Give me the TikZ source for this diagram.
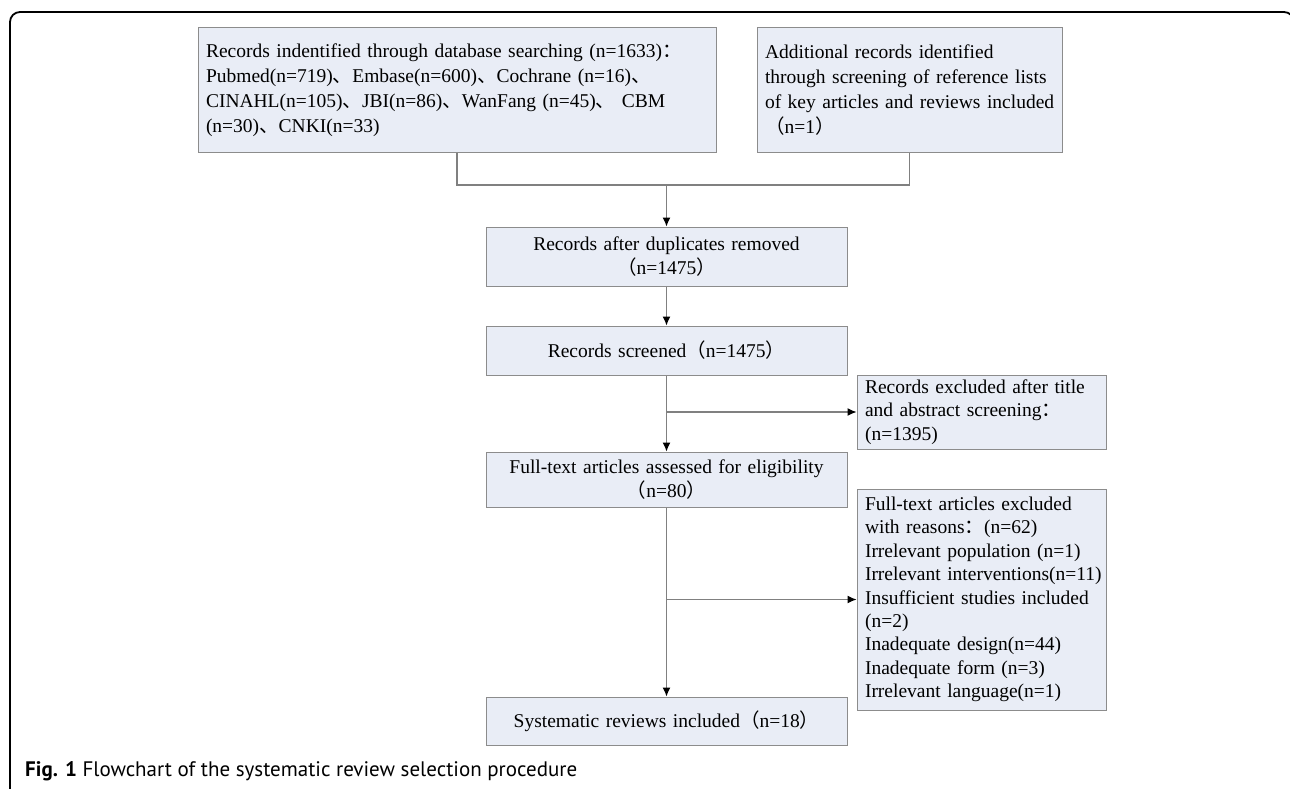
\documentclass[tikz,border=0pt]{standalone}
\usepackage{fontspec}
\setmainfont{Liberation Serif}
\newfontfamily\cjk{Noto Sans CJK SC}
\newfontfamily\capfont{PT Sans}
\usepackage{tikz}
\usetikzlibrary{arrows.meta}
\usetikzlibrary{positioning}
\definecolor{boxfill}{RGB}{233,237,246}
\definecolor{boxgray}{RGB}{140,140,140}
\definecolor{linegray}{RGB}{128,128,128}
\newcommand{\zh}[1]{{\cjk #1}}

\begin{document}
\begin{tikzpicture}[x=1pt,y=-1pt]
\useasboundingbox (0,0) rectangle (1290,789);
\draw[line width=1.8pt, rounded corners=10pt] (10,800) -- (10,12) -- (1294,12) -- (1294,800);

\begin{scope}[every node/.style={draw=boxgray,fill=boxfill,line width=1pt,inner xsep=8pt,inner ysep=0pt,
              font=\fontsize{19.5}{23.4}\selectfont}]
    \node[text width=502pt, minimum height=124pt, align=left, font=\fontsize{19.5}{25}\selectfont] (search) at (457,90)
        {\mbox{Records indentified through database searching (n=1633)\zh{：}}\\
         Pubmed(n=719)\zh{、}Embase(n=600)\zh{、}Cochrane (n=16)\zh{、}\\
         CINAHL(n=105)\zh{、}JBI(n=86)\zh{、}WanFang (n=45)\zh{、} CBM\\
         (n=30)\zh{、}CNKI(n=33)};
    \node[text width=289pt, minimum height=124pt, align=left, font=\fontsize{19.5}{25}\selectfont] (extra) at (909.5,90)
        {Additional records identified\\
         \mbox{through screening of reference lists}\\
         \mbox{of key articles and reviews included}\\
         \zh{（}n=1\zh{）}};
    \node[text width=345pt, minimum height=59pt, align=center] (dedup) at (666.5,256.5)
        {Records after duplicates removed\\ \zh{（}n=1475\zh{）}};
    \node[text width=345pt, minimum height=49pt, align=center] (screen) at (666.5,350.5)
        {Records screened\zh{（}n=1475\zh{）}};
    \node[text width=233pt, minimum height=74pt, align=left] (exclA) at (981.5,412)
        {Records excluded after title\\ and abstract screening\zh{：}\\ (n=1395)};
    \node[text width=345pt, minimum height=55pt, align=center] (full) at (666.5,479.5)
        {Full-text articles assessed for eligibility\\ \zh{（}n=80\zh{）}};
    \node[text width=233pt, minimum height=221pt, align=left] (exclB) at (981.5,599.5)
        {Full-text articles excluded\\
         with reasons\zh{：}(n=62)\\
         Irrelevant population (n=1)\\
         \mbox{Irrelevant interventions(n=11)}\\
         \mbox{Insufficient studies included}\\
         (n=2)\\
         Inadequate design(n=44)\\
         Inadequate form (n=3)\\
         Irrelevant language(n=1)};
    \node[text width=345pt, minimum height=48pt, align=center] (incl) at (666.5,721)
        {Systematic reviews included\zh{（}n=18\zh{）}};
\end{scope}

\coordinate (join) at (666.5,185);
\coordinate (c1) at (screen.south |- exclA.west);
\coordinate (c2) at (full.south |- exclB.west);

\begin{scope}[every edge/.style={draw=linegray,line width=1.2pt}]
    \draw[linegray,line width=1.2pt] (search.south) |- (join) -| (extra.south);
    \path [-{Latex[length=9pt,width=8pt,color=black]}] (join) edge (dedup);
    \foreach \u/\v in {dedup/screen, screen/full, full/incl}
        \path [-{Latex[length=9pt,width=8pt,color=black]}] (\u) edge (\v);
    \foreach \u/\v in {c1/exclA, c2/exclB}
        \path [-{Latex[length=9pt,width=8pt,color=black]}] (\u) edge (\v);
\end{scope}

\node[anchor=base west,inner sep=0pt,font=\capfont\fontsize{21}{24}\selectfont] (caption) at (25,776)
    {\textbf{Fig. 1} Flowchart of the systematic review selection procedure};
\end{tikzpicture}
\end{document}
